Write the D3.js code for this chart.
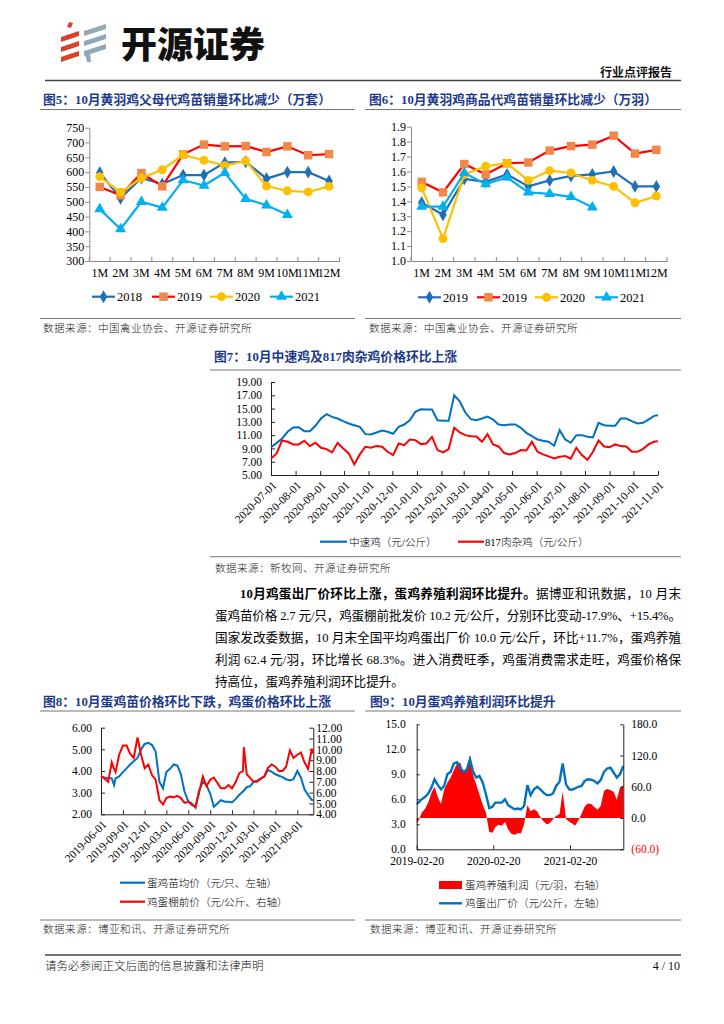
<!DOCTYPE html>
<html><head><meta charset="utf-8">
<script src="https://cdn.jsdelivr.net/npm/d3@7/dist/d3.min.js"></script>
<style>
html,body{margin:0;padding:0;background:#fff;}
svg{display:block;}
</style></head>
<body>
<svg id="page" width="724" height="1024"></svg>
<script>
// ================= DATA =================
const months = ["1M","2M","3M","4M","5M","6M","7M","8M","9M","10M","11M","12M"];

// Fig5 黄羽鸡父母代鸡苗销量（万套）
const fig5Names = ["2018","2019","2020","2021"];
const fig5_2018 = [598,512,580,560,590,590,632,635,578,600,600,570];
const fig5_2019 = [550,522,597,552,660,693,687,688,668,687,657,661];
const fig5_2020 = [585,532,580,608,658,640,622,638,553,537,533,552];
const fig5_2021 = [475,408,500,480,573,555,598,510,488,456];
const fig5YTicks = [300,350,400,450,500,550,600,650,700,750];

// Fig6 黄羽鸡商品代鸡苗销量（万羽）
const fig6Names = ["2019","2019","2020","2021"];
const fig6_s1 = [1.39,1.31,1.55,1.53,1.58,1.50,1.54,1.57,1.58,1.60,1.50,1.50];
const fig6_s2 = [1.53,1.46,1.65,1.58,1.655,1.66,1.74,1.77,1.78,1.84,1.72,1.745];
const fig6_s3 = [1.49,1.15,1.58,1.635,1.655,1.54,1.605,1.59,1.54,1.50,1.39,1.435];
const fig6_s4 = [1.365,1.365,1.59,1.515,1.56,1.46,1.45,1.43,1.36];
const fig6YTicks = [1.0,1.1,1.2,1.3,1.4,1.5,1.6,1.7,1.8,1.9];

// Fig7 中速鸡 / 817肉杂鸡 价格（元/公斤）
const fig7Dates = ["2020-07-01","2020-07-08","2020-07-15","2020-07-22","2020-07-29","2020-08-05","2020-08-12","2020-08-19","2020-08-26",
"2020-09-02","2020-09-09","2020-09-16","2020-09-23","2020-09-30","2020-10-07","2020-10-14","2020-10-21","2020-10-28",
"2020-11-04","2020-11-11","2020-11-18","2020-11-25","2020-12-02","2020-12-09","2020-12-16","2020-12-23","2020-12-30",
"2021-01-06","2021-01-13","2021-01-20","2021-01-27","2021-02-03","2021-02-10","2021-02-17","2021-02-24",
"2021-03-03","2021-03-10","2021-03-17","2021-03-24","2021-03-31","2021-04-07","2021-04-14","2021-04-21","2021-04-28",
"2021-05-05","2021-05-12","2021-05-19","2021-05-26","2021-06-02","2021-06-09","2021-06-16","2021-06-23","2021-06-30",
"2021-07-07","2021-07-14","2021-07-21","2021-07-28","2021-08-04","2021-08-11","2021-08-18","2021-08-25",
"2021-09-01","2021-09-08","2021-09-15","2021-09-22","2021-09-29","2021-10-06","2021-10-13","2021-10-20","2021-10-27","2021-11-01"];
const fig7Mid = [9.2,9.8,10.5,11.5,12.15,12.2,11.6,11.6,12.4,
13.5,14.15,13.75,13.5,13.1,12.75,12.5,12.25,11.15,
11.1,11.4,11.7,11.5,11.2,12.25,12.6,13.25,14.5,
14.9,14.85,14.85,13.25,13.15,13.15,17.0,16.1,
14.4,13.4,13.25,13.5,13.8,13.35,12.6,12.5,12.6,
12.6,12.1,11.35,10.85,10.35,10.15,10.0,9.4,11.75,
10.35,9.85,11.0,11.0,10.75,10.65,12.85,12.5,
12.4,12.4,13.5,13.5,13.1,12.75,12.85,13.35,13.9,14.0];
const fig7Hyb = [7.5,8.2,10.2,10.0,9.6,9.6,10.15,9.35,9.85,
9.1,8.9,8.4,9.85,9.0,8.25,6.6,8.1,9.25,
9.1,9.35,9.25,8.5,8.0,9.75,9.5,10.35,10.25,
9.65,9.75,10.75,8.75,8.4,8.9,12.1,11.4,
11.0,10.85,10.8,10.0,11.15,9.6,9.3,8.3,8.1,
8.3,8.75,8.7,10.0,8.5,8.1,7.8,7.5,7.75,
7.85,7.45,9.1,8.0,7.3,8.5,10.2,9.3,
9.2,9.6,9.35,9.3,8.5,8.5,8.9,9.6,10.0,10.1];
const fig7YTicks = [5,7,9,11,13,15,17,19];
const fig7XTicks = ["2020-07-01","2020-08-01","2020-09-01","2020-10-01","2020-11-01","2020-12-01","2021-01-01","2021-02-01",
"2021-03-01","2021-04-01","2021-05-01","2021-06-01","2021-07-01","2021-08-01","2021-09-01","2021-10-01","2021-11-01"];

// Fig8 蛋鸡苗均价（元/只，左轴）/ 鸡蛋棚前价（元/公斤，右轴）
const fig8Dates = ["2019-06-01","2019-06-16","2019-07-01","2019-07-16","2019-07-26","2019-08-01","2019-08-16","2019-09-01","2019-09-16",
"2019-10-01","2019-10-16","2019-11-01","2019-11-16","2019-12-01","2019-12-16","2020-01-01","2020-01-16","2020-02-01","2020-02-16",
"2020-03-01","2020-03-16","2020-04-01","2020-04-16","2020-05-01","2020-05-16","2020-06-01","2020-06-16","2020-07-01","2020-07-16",
"2020-08-01","2020-08-16","2020-09-01","2020-09-16","2020-10-01","2020-10-16","2020-11-01","2020-11-16","2020-12-01","2020-12-16",
"2021-01-01","2021-01-16","2021-01-20","2021-02-01","2021-02-16","2021-03-01","2021-03-16","2021-04-01","2021-04-16","2021-05-01",
"2021-05-16","2021-06-01","2021-06-16","2021-07-01","2021-07-16","2021-08-01","2021-08-16","2021-09-01","2021-09-16","2021-10-01",
"2021-10-16","2021-11-01","2021-11-07"];
const fig8Chick = [3.74,3.70,3.68,3.66,3.35,3.66,3.75,3.95,4.12,
4.30,4.45,4.60,5.00,5.25,5.30,5.20,4.90,3.50,3.20,
3.95,4.10,4.30,4.25,3.85,3.05,2.60,2.50,2.30,3.10,
3.50,3.35,2.95,2.35,2.50,2.65,2.58,2.58,2.55,2.70,
2.90,3.05,3.10,3.25,3.30,3.50,3.55,3.65,3.75,4.05,
3.97,3.85,3.78,3.72,3.62,3.56,3.62,4.00,3.70,3.15,
2.90,2.66,2.66];
const fig8Egg = [7.54,7.3,7.0,8.8,8.2,7.9,9.5,10.35,10.35,
9.6,9.2,11.1,9.5,8.25,8.6,7.6,7.2,5.3,4.9,
5.5,5.63,5.57,5.7,5.5,5.05,5.17,4.86,4.7,6.0,
7.5,6.6,7.2,7.4,6.9,6.4,6.4,6.7,6.4,6.95,
7.8,8.0,10.2,7.7,7.35,7.0,7.0,7.3,7.5,8.3,
8.6,8.4,8.0,8.0,8.4,9.9,9.2,9.5,9.7,8.8,
8.2,10.05,9.63];
const fig8LeftTicks = [2,3,4,5,6];
const fig8RightTicks = [4,5,6,7,8,9,10,11,12];
const fig8XTicks = ["2019-06-01","2019-09-01","2019-12-01","2020-03-01","2020-06-01","2020-09-01","2020-12-01","2021-03-01","2021-06-01","2021-09-01"];

// Fig9 鸡蛋出厂价（元/公斤，左轴）/ 蛋鸡养殖利润（元/羽，右轴）
const fig9Dates = ["2019-02-20","2019-03-01","2019-03-16","2019-04-01","2019-04-16","2019-05-01","2019-05-16","2019-06-01","2019-06-16",
"2019-07-01","2019-07-16","2019-08-01","2019-08-16","2019-09-01","2019-09-16","2019-10-01","2019-10-16","2019-11-01","2019-11-16",
"2019-12-01","2019-12-16","2020-01-01","2020-01-16","2020-02-01","2020-02-16","2020-03-01","2020-03-16","2020-04-01","2020-04-16",
"2020-05-01","2020-05-16","2020-06-01","2020-06-16","2020-07-01","2020-07-16","2020-08-01","2020-08-16","2020-09-01","2020-09-16",
"2020-10-01","2020-10-16","2020-11-01","2020-11-16","2020-12-01","2020-12-16","2021-01-01","2021-01-16","2021-02-01","2021-02-16",
"2021-03-01","2021-03-16","2021-04-01","2021-04-16","2021-05-01","2021-05-16","2021-06-01","2021-06-16","2021-07-01","2021-07-16",
"2021-08-01","2021-08-16","2021-09-01","2021-09-16","2021-10-01","2021-10-16","2021-11-01"];
const fig9Price = [5.44,5.6,6.0,6.3,6.7,7.4,8.4,7.7,7.2,
7.6,9.0,9.3,10.3,10.45,9.7,9.3,9.5,10.8,9.3,
8.6,8.8,8.0,6.6,4.95,5.1,5.6,5.6,5.6,6.0,
5.3,5.05,4.8,4.9,4.8,5.2,7.7,6.5,7.2,7.5,
7.2,6.8,6.5,6.5,6.7,7.6,8.1,10.3,7.8,7.2,
7.15,7.3,7.5,7.6,8.2,8.4,8.35,8.2,7.9,8.3,
9.3,9.7,9.8,9.2,8.6,9.0,10.0];
const fig9Profit = [-10,-5,10,18,30,48,60,40,27,
55,68,78,92,105,106,88,95,120,82,
64,45,25,10,-27,-28,-17,-13,-15,-7,
-22,-30,-32,-29,-29,-12,25,13,17,13,
2,-6,-12,-10,-2,4,8,51,-2,-7,
-10,-15,-4,8,22,28,27,21,16,23,
52,56,54,50,35,58,63];
const fig9LeftTicks = [0,3,6,9,12,15];
const fig9RightTicks = [-60,0,60,120,180];
const fig9XTicks = ["2019-02-20","2020-02-20","2021-02-20"];

// ================= DRAWING =================
const svg = d3.select("#page");
const SERIF = "'Liberation Serif','Times New Roman','Noto Sans CJK SC',serif";
const CJK = "'Noto Sans CJK SC','Noto Sans',sans-serif";
const NAVY = "#1D3A8A";
const parse = d3.timeParse("%Y-%m-%d");
const C = {blue:"#1F6EB8", red:"#FF0000", orange:"#F0884A", yellow:"#FFC000", cyan:"#00B0F0", line:"#0070C0"};

// ---------- Header ----------
(function(){
  const g = svg.append("g").attr("transform","translate(60,22)");
  const red = "#D9412B", gray = "#8EAAB9";
  g.append("path").attr("d","M9,0 L13,1 L11,6 L7,5 Z").attr("fill",red);
  [9,19,29].forEach(o=>{
    g.append("path").attr("d",`M1,${o+6} L19,${o} L19,${o+5} L1,${o+11} Z`).attr("fill",red);
  });
  [2,12,22].forEach(o=>{
    g.append("path").attr("d",`M24,${o+7} L46,${o} L46,${o+5} L24,${o+12} Z`).attr("fill",gray);
  });
  g.append("path").attr("d","M25,32 L30,31 L31,40 L27,40 Z").attr("fill",gray);
  svg.append("text").attr("x",121).attr("y",58).attr("font-family",CJK).attr("font-weight",900)
    .attr("font-size",36).attr("fill","#111").text("开源证券");
  svg.append("text").attr("x",672).attr("y",77).attr("text-anchor","end").attr("font-family",CJK)
    .attr("font-weight",700).attr("font-size",12).attr("fill","#111").text("行业点评报告");
  svg.append("line").attr("x1",45).attr("x2",681).attr("y1",80.5).attr("y2",80.5).attr("stroke","#444").attr("stroke-width",1.6);
  // footer
  svg.append("line").attr("x1",45).attr("x2",681).attr("y1",955).attr("y2",955).attr("stroke","#444").attr("stroke-width",1.6);
  svg.append("text").attr("x",45).attr("y",970).attr("font-family",CJK).attr("font-size",11.5).attr("font-weight",300)
    .attr("fill","#111").text("请务必参阅正文后面的信息披露和法律声明");
  svg.append("text").attr("x",680).attr("y",970).attr("text-anchor","end").attr("font-family",SERIF).attr("font-size",12)
    .attr("fill","#111").text("4 / 10");
})();

function title(x, y, txt, lx1, lx2, ly){
  svg.append("text").attr("x",x).attr("y",y).attr("font-family",SERIF).attr("font-weight",700)
    .attr("font-size",12.8).attr("fill",NAVY).text(txt);
  svg.append("line").attr("x1",lx1).attr("x2",lx2).attr("y1",ly).attr("y2",ly).attr("stroke","#777").attr("stroke-width",1);
}
function source(x, y, txt, lx1, lx2, ly){
  svg.append("line").attr("x1",lx1).attr("x2",lx2).attr("y1",ly).attr("y2",ly).attr("stroke","#777").attr("stroke-width",1);
  svg.append("text").attr("x",x).attr("y",y).attr("font-family",CJK).attr("font-weight",300)
    .attr("font-size",10.6).attr("letter-spacing",0.4).attr("fill","#222").text(txt);
}
function styleAxis(sel, col, fs){
  sel.select(".domain").attr("stroke",col);
  sel.selectAll(".tick line").attr("stroke",col);
  sel.selectAll("text").attr("font-family",SERIF).attr("font-size",fs).attr("fill","#000");
}

// ---------- Category charts (Fig5, Fig6) ----------
function catChart(o){
  const g = svg.append("g");
  const x = d3.scaleBand().domain(months).range([o.x0,o.x1]);
  const y = d3.scaleLinear().domain(o.yDomain).range([o.yBot,o.yTop]);
  const ya = g.append("g").attr("transform",`translate(${o.x0},0)`)
    .call(d3.axisLeft(y).tickValues(o.yTicks).tickFormat(o.yFmt).tickSizeInner(4).tickSizeOuter(0).tickPadding(1));
  styleAxis(ya,"#8a8a8a",12);
  const xa = g.append("g").attr("transform",`translate(0,${o.yBot})`)
    .call(d3.axisBottom(x).tickSize(0).tickPadding(7));
  styleAxis(xa,"#8a8a8a",12);
  g.append("g").selectAll("line").data(months.map(m=>x(m)).concat([o.x1])).join("line")
    .attr("x1",d=>d).attr("x2",d=>d).attr("y1",o.yBot).attr("y2",o.yBot-4).attr("stroke","#8a8a8a");
  o.series.forEach(s=>{
    const pts = s.values.map((v,i)=>[x(months[i])+x.bandwidth()/2, y(v)]);
    g.append("path").attr("d",d3.line()(pts)).attr("fill","none").attr("stroke",s.line).attr("stroke-width",2.2);
    g.append("g").selectAll("path").data(pts).join("path")
      .attr("transform",d=>`translate(${d[0]},${d[1]})`).attr("d",d3.symbol(s.symbol,s.size)()).attr("fill",s.fill);
  });
  // legend
  o.series.forEach((s,i)=>{
    const lx = o.legendX[i], ly = o.legendY;
    g.append("line").attr("x1",lx).attr("x2",lx+23).attr("y1",ly).attr("y2",ly).attr("stroke",s.line).attr("stroke-width",2.2);
    g.append("path").attr("transform",`translate(${lx+11.5},${ly})`).attr("d",d3.symbol(s.symbol,s.size)()).attr("fill",s.fill);
    g.append("text").attr("x",lx+25).attr("y",ly+4.2).attr("font-family",SERIF).attr("font-size",12.5).text(s.name);
  });
}

title(43, 103.5, "图5：10月黄羽鸡父母代鸡苗销量环比减少（万套）", 40, 355, 109.5);
catChart({x0:89.3, x1:339.5, yTop:127.7, yBot:261, yDomain:[300,750], yTicks:fig5YTicks, yFmt:d3.format("d"),
  legendY:296.7, legendX:[92,152,210,270],
  series:[
    {name:fig5Names[0], values:fig5_2018, line:C.blue, fill:C.blue, symbol:d3.symbolDiamond, size:48},
    {name:fig5Names[1], values:fig5_2019, line:C.red, fill:C.orange, symbol:d3.symbolSquare, size:72},
    {name:fig5Names[2], values:fig5_2020, line:C.yellow, fill:C.yellow, symbol:d3.symbolCircle, size:62},
    {name:fig5Names[3], values:fig5_2021, line:C.cyan, fill:C.cyan, symbol:d3.symbolTriangle, size:52}
  ]});
source(43, 332, "数据来源：中国禽业协会、开源证券研究所", 40, 355, 318.5);

title(369, 103.5, "图6：10月黄羽鸡商品代鸡苗销量环比减少（万羽）", 365, 681, 109.5);
catChart({x0:411, x1:667, yTop:126.7, yBot:261, yDomain:[1.0,1.9], yTicks:fig6YTicks, yFmt:d3.format(".1f"),
  legendY:297.3, legendX:[418,477,535,595],
  series:[
    {name:fig6Names[0], values:fig6_s1, line:C.blue, fill:C.blue, symbol:d3.symbolDiamond, size:48},
    {name:fig6Names[1], values:fig6_s2, line:C.red, fill:C.orange, symbol:d3.symbolSquare, size:72},
    {name:fig6Names[2], values:fig6_s3, line:C.yellow, fill:C.yellow, symbol:d3.symbolCircle, size:62},
    {name:fig6Names[3], values:fig6_s4, line:C.cyan, fill:C.cyan, symbol:d3.symbolTriangle, size:52}
  ]});
source(369, 332, "数据来源：中国禽业协会、开源证券研究所", 365, 681, 318.5);

// ---------- Fig7 ----------
title(214, 361, "图7：10月中速鸡及817肉杂鸡价格环比上涨", 210, 681, 370);
(function(){
  const g = svg.append("g");
  const dates = fig7Dates.map(parse);
  const x = d3.scaleTime().domain([parse(fig7XTicks[0]), parse(fig7XTicks[fig7XTicks.length-1])]).range([271,658]);
  const y = d3.scaleLinear().domain([5,19]).range([475,382]);
  const ya = g.append("g").attr("transform","translate(271,0)")
    .call(d3.axisLeft(y).tickValues(fig7YTicks).tickFormat(d3.format(".2f")).tickSizeInner(-4).tickSizeOuter(0).tickPadding(9));
  styleAxis(ya,"#222",11.5);
  const xa = g.append("g").attr("transform","translate(0,475)")
    .call(d3.axisBottom(x).tickValues(fig7XTicks.map(parse)).tickFormat(d3.timeFormat("%Y-%m-%d")).tickSizeInner(-4).tickSizeOuter(0));
  styleAxis(xa,"#222",11.5);
  xa.selectAll(".tick text").attr("y",null).attr("dy","0.35em").attr("text-anchor","end")
    .attr("transform","translate(3,8) rotate(-45)");
  const line = (vals)=>d3.line().x((d,i)=>x(dates[i])).y(d=>y(d))(vals);
  g.append("path").attr("d",line(fig7Mid)).attr("fill","none").attr("stroke",C.line).attr("stroke-width",2);
  g.append("path").attr("d",line(fig7Hyb)).attr("fill","none").attr("stroke",C.red).attr("stroke-width",2);
  // legend
  g.append("line").attr("x1",320).attr("x2",347).attr("y1",541.7).attr("y2",541.7).attr("stroke",C.line).attr("stroke-width",2.2);
  g.append("text").attr("x",349).attr("y",545.5).attr("font-family",SERIF).attr("font-size",10.6).attr("font-weight",300).text("中速鸡（元/公斤）");
  g.append("line").attr("x1",458).attr("x2",484).attr("y1",541.7).attr("y2",541.7).attr("stroke",C.red).attr("stroke-width",2.2);
  g.append("text").attr("x",485).attr("y",545.5).attr("font-family",SERIF).attr("font-size",10.6).attr("font-weight",300).text("817肉杂鸡（元/公斤）");
})();
source(215, 571.5, "数据来源：新牧网、开源证券研究所", 210, 681, 556.7);

// ---------- Paragraph ----------
function justLine(x, y, runs, target){
  const fs = 12.6;
  const nodes = runs.map(r=>svg.append("text").attr("y",y).attr("font-family",SERIF).attr("font-size",fs)
    .attr("font-weight",r.b?700:400).attr("fill","#000").text(r.t));
  const w = nodes.map(n=>n.node().getComputedTextLength());
  const n = d3.sum(runs,r=>r.t.length);
  const ls = target ? (target - d3.sum(w))/(n-1) : 0;
  let cx = x;
  nodes.forEach((nd,i)=>{ nd.attr("x",cx).attr("letter-spacing",ls); cx += w[i] + ls*runs[i].t.length; });
}
justLine(240, 597.5, [{t:"10月鸡蛋出厂价环比上涨，蛋鸡养殖利润环比提升。",b:1},{t:"据博亚和讯数据，10 月末"}], 441);
justLine(215, 619.5, [{t:"蛋鸡苗价格 2.7 元/只，鸡蛋棚前批发价 10.2 元/公斤，分别环比变动-17.9%、+15.4%。"}], 466);
justLine(215, 641.5, [{t:"国家发改委数据，10 月末全国平均鸡蛋出厂价 10.0 元/公斤，环比+11.7%，蛋鸡养殖"}], 466);
justLine(215, 663.5, [{t:"利润 62.4 元/羽，环比增长 68.3%。进入消费旺季，鸡蛋消费需求走旺，鸡蛋价格保"}], 466);
justLine(215, 685.5, [{t:"持高位，蛋鸡养殖利润环比提升。"}], 0);

// ---------- Fig8 ----------
title(43, 706, "图8：10月蛋鸡苗价格环比下跌，鸡蛋价格环比上涨", 40, 355, 711);
(function(){
  const g = svg.append("g");
  const dates = fig8Dates.map(parse);
  const x = d3.scaleTime().domain([parse("2019-06-01"), parse("2021-11-07")]).range([101,313.3]);
  const yl = d3.scaleLinear().domain([2,6]).range([814.3,727.7]);
  const yr = d3.scaleLinear().domain([4,12]).range([814.3,727.7]);
  const la = g.append("g").attr("transform","translate(101,0)")
    .call(d3.axisLeft(yl).tickValues(fig8LeftTicks).tickFormat(d3.format(".2f")).tickSizeInner(-4).tickSizeOuter(0).tickPadding(9));
  styleAxis(la,"#222",11.5);
  const ra = g.append("g").attr("transform","translate(313.3,0)")
    .call(d3.axisRight(yr).tickValues(fig8RightTicks).tickFormat(d3.format(".2f")).tickSizeInner(-4).tickSizeOuter(0).tickPadding(3));
  styleAxis(ra,"#222",11.5);
  const xa = g.append("g").attr("transform","translate(0,814.3)")
    .call(d3.axisBottom(x).tickValues(fig8XTicks.map(parse)).tickFormat(d3.timeFormat("%Y-%m-%d")).tickSizeInner(-4).tickSizeOuter(0));
  styleAxis(xa,"#222",11.5);
  xa.selectAll(".tick text").attr("y",null).attr("dy","0.35em").attr("text-anchor","end")
    .attr("transform","translate(3,8) rotate(-45)");
  const lineL = d3.line().x((d,i)=>x(dates[i])).y(d=>yl(d));
  const lineR = d3.line().x((d,i)=>x(dates[i])).y(d=>yr(d));
  g.append("path").attr("d",lineL(fig8Chick)).attr("fill","none").attr("stroke",C.line).attr("stroke-width",2);
  g.append("path").attr("d",lineR(fig8Egg)).attr("fill","none").attr("stroke",C.red).attr("stroke-width",2);
  g.append("line").attr("x1",120).attr("x2",145).attr("y1",882.7).attr("y2",882.7).attr("stroke",C.line).attr("stroke-width",2.2);
  g.append("text").attr("x",147).attr("y",886.5).attr("font-family",SERIF).attr("font-size",10.6).attr("font-weight",300).text("蛋鸡苗均价（元/只、左轴）");
  g.append("line").attr("x1",120).attr("x2",145).attr("y1",901.7).attr("y2",901.7).attr("stroke",C.red).attr("stroke-width",2.2);
  g.append("text").attr("x",147).attr("y",905.5).attr("font-family",SERIF).attr("font-size",10.6).attr("font-weight",300).text("鸡蛋棚前价（元/公斤、右轴）");
})();
source(43, 933, "数据来源：博亚和讯、开源证券研究所", 40, 355, 920);

// ---------- Fig9 ----------
title(370, 706, "图9：10月蛋鸡养殖利润环比提升", 365, 681, 711);
(function(){
  const g = svg.append("g");
  const dates = fig9Dates.map(parse);
  const x = d3.scaleTime().domain([parse("2019-02-20"), parse("2021-11-01")]).range([416.7,623.3]);
  const yl = d3.scaleLinear().domain([0,15]).range([849.3,724.3]);
  const yr = d3.scaleLinear().domain([-60,180]).range([849.3,724.3]);
  const area = d3.area().x((d,i)=>x(dates[i])).y0(yr(0)).y1(d=>yr(d));
  g.append("path").attr("d",area(fig9Profit)).attr("fill","#FF0000");
  const line = d3.line().x((d,i)=>x(dates[i])).y(d=>yl(d));
  g.append("path").attr("d",line(fig9Price)).attr("fill","none").attr("stroke",C.line).attr("stroke-width",2.4);
  const la = g.append("g").attr("transform","translate(416.7,0)")
    .call(d3.axisLeft(yl).tickValues(fig9LeftTicks).tickFormat(d3.format(".1f")).tickSizeInner(-3).tickSizeOuter(0).tickPadding(11));
  styleAxis(la,"#222",11.5);
  const ra = g.append("g").attr("transform","translate(623.3,0)")
    .call(d3.axisRight(yr).tickValues(fig9RightTicks).tickFormat(v=>v<0?`(${d3.format(".1f")(-v)})`:d3.format(".1f")(v))
      .tickSizeInner(-3).tickSizeOuter(0).tickPadding(8));
  styleAxis(ra,"#222",11.5);
  ra.selectAll(".tick text").attr("fill",d=>d<0?"#FF0000":"#000");
  const xa = g.append("g").attr("transform","translate(0,849.3)")
    .call(d3.axisBottom(x).tickValues(fig9XTicks.map(parse)).tickFormat(d3.timeFormat("%Y-%m-%d")).tickSizeInner(-4).tickSizeOuter(0).tickPadding(8));
  styleAxis(xa,"#222",11.5);
  g.append("rect").attr("x",439).attr("y",881).attr("width",23).attr("height",8).attr("fill","#FF0000");
  g.append("text").attr("x",465).attr("y",889).attr("font-family",SERIF).attr("font-size",10.6).attr("font-weight",300).text("蛋鸡养殖利润（元/羽，右轴）");
  g.append("line").attr("x1",439).attr("x2",462).attr("y1",903.3).attr("y2",903.3).attr("stroke",C.line).attr("stroke-width",2.4);
  g.append("text").attr("x",465).attr("y",907).attr("font-family",SERIF).attr("font-size",10.6).attr("font-weight",300).text("鸡蛋出厂价（元/公斤，左轴）");
})();
source(370, 933, "数据来源：博亚和讯、开源证券研究所", 365, 681, 920);
</script>
</body></html>
